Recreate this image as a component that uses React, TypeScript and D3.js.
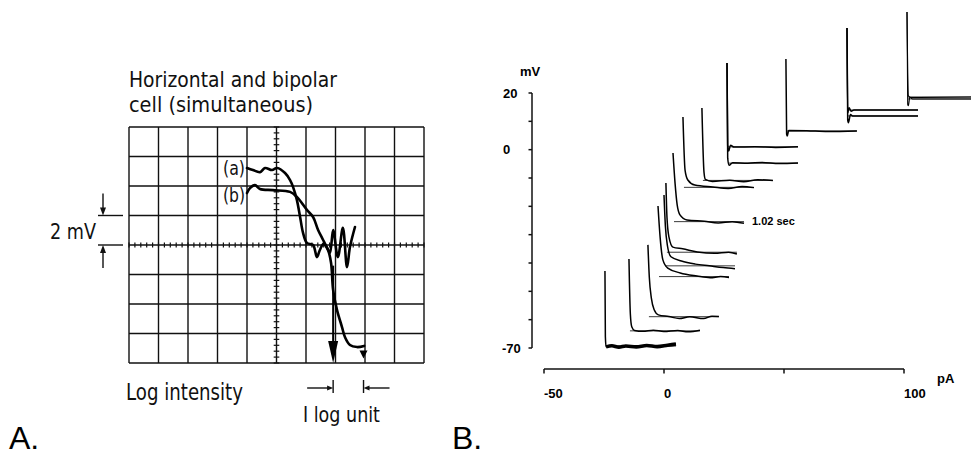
import React from "react";
import * as d3 from "d3";

// ---------- Panel A : oscilloscope graticule (units = divisions) ----------
const gridCols = d3.range(-5, 6);
const gridRows = d3.range(-4, 5);
const minorCols = d3.range(-25, 26).map((i) => i / 5);
const minorRows = d3.range(-20, 21).map((i) => i / 5);

// curve (a): horizontal cell response vs log intensity [div x, div y]
const curveA: [number, number][] = [
  [-1.0, 2.61], [-0.8, 2.54], [-0.56, 2.47], [-0.39, 2.61], [-0.15, 2.54],
  [0.02, 2.61], [0.29, 2.44], [0.46, 2.2], [0.56, 1.97], [0.69, 1.53],
  [0.8, 0.95], [0.9, 0.41], [1.03, 0.07], [1.24, 0.0], [1.37, -0.41],
  [1.47, -0.17], [1.6, 0.05], [1.71, -0.1], [1.81, -0.27], [1.92, 0.51],
  [2.08, -0.41], [2.25, 0.58], [2.39, -0.75], [2.49, -0.07], [2.66, 0.61],
];
// curve (b): bipolar cell response
const curveB: [number, number][] = [
  [-1.0, 1.76], [-0.9, 1.93], [-0.73, 2.03], [-0.56, 1.9], [-0.12, 1.86],
  [0.46, 1.8], [0.69, 1.63], [1.03, 1.19], [1.24, 0.95], [1.41, 0.51],
  [1.58, 0.17], [1.75, -0.17], [1.85, -0.61], [1.92, -1.53], [2.05, -2.2],
  [2.22, -2.78], [2.32, -3.12], [2.49, -3.39], [2.73, -3.46], [2.97, -3.42],
];
const titleLines = ["Horizontal and bipolar", "cell (simultaneous)"];
const curveLabels = ["(a)", "(b)"];

// ---------- Panel B : voltage traces vs injected current ----------
const yTicksMV = d3.range(20, -71, -10);
const yTickLabels = [20, 0, -70];
const xTicksPA = [-50, 0, 50, 100];
const xTickLabels = [-50, 0, 100];
const sweepSec = 1.02;

const traceCurrentsPA = [
  -24.6, -14.6, -6.7, -2.5, 0, 0.8, 3.75, 7.9, 15.8, 26.25, 26.25, 50.8, 76.25, 76.25, 101.25, 101.25,
];
// each trace: [time (s), membrane potential (mV)]
const traceSamples: [number, number][][] = [
  [[0, -42.8], [0.006, -66], [0.016, -69.6], [0.1, -69.2], [0.2, -69.7], [0.3, -69.3], [0.45, -69.6], [0.6, -69.1], [0.75, -69.5], [0.9, -69.0], [1.02, -68.6]],
  [[0, -38.6], [0.02, -58], [0.04, -62.5], [0.08, -63.8], [0.2, -64.1], [0.35, -63.7], [0.5, -64.2], [0.7, -63.8], [0.85, -64.3], [1.02, -63.7]],
  [[0, -33.6], [0.02, -45], [0.05, -52.5], [0.09, -56.5], [0.15, -58.3], [0.3, -58.9], [0.45, -59.6], [0.6, -59.0], [0.8, -59.6], [0.92, -58.8], [1.02, -58.9]],
  [[0, -19.9], [0.03, -30.8], [0.07, -38.9], [0.14, -41.8], [0.32, -43.5], [0.56, -44.6], [0.75, -45.2], [0.9, -44.8], [1.02, -45.1]],
  [[0, -16], [0.02, -27], [0.05, -34], [0.1, -37.8], [0.25, -39.3], [0.45, -40.4], [0.65, -41], [0.85, -41.6], [1.02, -42]],
  [[0, -11.8], [0.015, -23.8], [0.043, -30.8], [0.1, -34.4], [0.24, -35], [0.45, -36.1], [0.7, -36.6], [0.9, -36.2], [1.02, -36.8]],
  [[0, -1.2], [0.03, -12], [0.06, -19.5], [0.1, -23], [0.2, -24.8], [0.45, -25.3], [0.65, -25.9], [0.85, -25.4], [1.02, -26]],
  [[0, 11.5], [0.03, -7.2], [0.07, -10.7], [0.17, -12.5], [0.43, -13.2], [0.65, -13.7], [0.85, -13.0], [1.02, -13.4]],
  [[0, 14.7], [0.03, -8], [0.05, -10.5], [0.15, -11.2], [0.4, -10.8], [0.6, -11.3], [0.8, -10.6], [1.02, -10.9]],
  [[0, 30.6], [0.01, -3], [0.03, -5.5], [0.08, -4.6], [0.3, -4.8], [0.5, -4.5], [0.75, -4.9], [1.02, -4.7]],
  [[0, 30.6], [0.01, 1.5], [0.025, -0.5], [0.05, 1.6], [0.1, 0.9], [0.4, 1.0], [0.7, 0.8], [1.02, 1.0]],
  [[0, 32], [0.01, 5.5], [0.02, 4.8], [0.04, 6.8], [0.3, 6.7], [0.6, 6.4], [1.02, 6.6]],
  [[0, 42.9], [0.01, 10.5], [0.02, 9.5], [0.05, 12.4], [0.08, 11.9], [1.02, 11.9]],
  [[0, 42.9], [0.01, 13], [0.03, 14.8], [0.06, 13.6], [0.1, 14], [1.02, 14]],
  [[0, 48.6], [0.01, 16], [0.02, 15.5], [0.04, 18.5], [0.08, 17.9], [1.02, 17.9]],
  [[0, 48.6], [0.02, 19], [0.05, 18.4], [1.02, 18.6]],
];
const sweepLabel = "1.02 sec";
const sweepLabelTrace = 6;

const fontA = "'DejaVu Sans', 'Liberation Sans', sans-serif";
const fontB = "'Liberation Sans', Arial, sans-serif";

function tri(x: number, y: number, w: number, h: number, dir: "up" | "down" | "left" | "right") {
  if (dir === "down") return `M${x - w / 2},${y - h}L${x + w / 2},${y - h}L${x},${y}Z`;
  if (dir === "up") return `M${x - w / 2},${y + h}L${x + w / 2},${y + h}L${x},${y}Z`;
  if (dir === "right") return `M${x - h},${y - w / 2}L${x - h},${y + w / 2}L${x},${y}Z`;
  return `M${x + h},${y - w / 2}L${x + h},${y + w / 2}L${x},${y}Z`;
}

export default function App() {
  // Panel A scales
  const xA = d3.scaleLinear().domain([-5, 5]).range([129, 424]);
  const yA = d3.scaleLinear().domain([-4, 4]).range([363, 127]);
  const lineA = d3
    .line<[number, number]>()
    .x((d) => xA(d[0]))
    .y((d) => yA(d[1]))
    .curve(d3.curveCatmullRom.alpha(0.5));

  // Panel B scales
  const xB = d3.scaleLinear().domain([-50, 100]).range([544, 904]);
  const yB = d3.scaleLinear().domain([-70, 20]).range([348, 93]);
  const tB = d3.scaleLinear().domain([0, sweepSec]).range([0, 71]);

  const traceLine = (pA: number) =>
    d3
      .line<[number, number]>()
      .x((d) => xB(pA) + tB(d[0]))
      .y((d) => yB(d[1]))
      .curve(d3.curveMonotoneX);

  const arrowX = xA(1.92);
  const endX = xA(2.95);

  return (
    <svg width={971} height={456} style={{ position: "absolute", left: 0, top: 0, background: "#fff" }}>
      <rect width={971} height={456} fill="#fff" />
      {/* ---------------- Panel A ---------------- */}
      <g fill="#111" fontFamily={fontA}>
        <text x={129} y={87} fontSize={22} textLength={208} lengthAdjust="spacingAndGlyphs">
          {titleLines[0]}
        </text>
        <text x={129} y={112} fontSize={22} textLength={184} lengthAdjust="spacingAndGlyphs">
          {titleLines[1]}
        </text>
      </g>
      <g stroke="#111" strokeWidth={1.4} fill="none">
        {gridCols.map((c) => (
          <line key={"c" + c} x1={xA(c)} x2={xA(c)} y1={yA(-4)} y2={yA(4)} />
        ))}
        {gridRows.map((r) => (
          <line key={"r" + r} x1={xA(-5)} x2={xA(5)} y1={yA(r)} y2={yA(r)} />
        ))}
        {minorCols.map((c) => (
          <line key={"mc" + c} x1={xA(c)} x2={xA(c)} y1={yA(0) - 2.5} y2={yA(0) + 2.5} strokeWidth={1.2} />
        ))}
        {minorRows.map((r) => (
          <line key={"mr" + r} x1={xA(0) - 2.8} x2={xA(0) + 2.8} y1={yA(r)} y2={yA(r)} strokeWidth={1.2} />
        ))}
      </g>
      <g fill="none" stroke="#000" strokeWidth={2.6} strokeLinejoin="round" strokeLinecap="round">
        <path d={lineA(curveA) || ""} />
        <path d={lineA(curveB) || ""} />
      </g>
      {/* big arrow and end arrow */}
      <g stroke="#000" fill="#000">
        <line x1={arrowX} x2={arrowX} y1={yA(-0.7)} y2={yA(-3.3)} strokeWidth={2} />
        <path d={tri(arrowX, yA(-4), 10, 22, "down")} stroke="none" />
        <path d={tri(endX, yA(-3.85), 8, 8, "down")} stroke="none" />
      </g>
      <g fill="#111" fontFamily={fontA} fontSize={20}>
        <text x={223} y={yA(2.61) + 7} textLength={22} lengthAdjust="spacingAndGlyphs">
          {curveLabels[0]}
        </text>
        <text x={223} y={yA(1.68) + 7} textLength={22} lengthAdjust="spacingAndGlyphs">
          {curveLabels[1]}
        </text>
      </g>
      {/* 2 mV scale marker */}
      <g stroke="#111" strokeWidth={1.4} fill="#111">
        <line x1={98} x2={123} y1={yA(1)} y2={yA(1)} />
        <line x1={98} x2={123} y1={yA(0)} y2={yA(0)} />
        <line x1={103} x2={103} y1={yA(1) - 22} y2={yA(1) - 6} />
        <path d={tri(103, yA(1), 6, 8, "down")} stroke="none" />
        <line x1={103} x2={103} y1={yA(0) + 23} y2={yA(0) + 6} />
        <path d={tri(103, yA(0), 6, 8, "up")} stroke="none" />
      </g>
      <text x={50} y={239} fontSize={22} fontFamily={fontA} fill="#111" textLength={46} lengthAdjust="spacingAndGlyphs">
        2 mV
      </text>
      <text x={126} y={400} fontSize={23} fontFamily={fontA} fill="#111" textLength={117} lengthAdjust="spacingAndGlyphs">
        Log intensity
      </text>
      {/* 1 log unit marker */}
      <g stroke="#111" strokeWidth={1.4} fill="#111">
        <line x1={arrowX} x2={arrowX} y1={380} y2={393} />
        <line x1={endX} x2={endX} y1={380} y2={393} />
        <line x1={arrowX - 26} x2={arrowX - 4} y1={388} y2={388} />
        <path d={tri(arrowX, 388, 5, 6, "right")} stroke="none" />
        <line x1={endX + 4} x2={endX + 26} y1={388} y2={388} />
        <path d={tri(endX, 388, 5, 6, "left")} stroke="none" />
      </g>
      <text x={303} y={422} fontSize={22} fontFamily={fontA} fill="#111" textLength={77} lengthAdjust="spacingAndGlyphs">
        I log unit
      </text>
      <text x={9} y={449} fontSize={32} fontFamily={fontB} fill="#000">
        A.
      </text>

      {/* ---------------- Panel B ---------------- */}
      <g stroke="#111" strokeWidth={1.5} fill="none">
        <line x1={532} x2={532} y1={yB(20)} y2={yB(-70)} />
        {yTicksMV.map((v) => (
          <line key={"yt" + v} x1={528.5} x2={532} y1={yB(v)} y2={yB(v)} />
        ))}
        <line x1={xB(-50)} x2={xB(100)} y1={369} y2={369} />
        {xTicksPA.map((v) => (
          <line key={"xt" + v} x1={xB(v)} x2={xB(v)} y1={369} y2={373.5} />
        ))}
      </g>
      <g fontFamily={fontB} fontWeight="bold" fill="#000" fontSize={13}>
        {yTickLabels.map((v) => (
          <text key={"yl" + v} x={v < 0 ? 502 : 503} y={yB(v) + 4.5}>
            {v < 0 ? "-" + Math.abs(v) : v}
          </text>
        ))}
        <text x={520} y={76}>mV</text>
        {xTickLabels.map((v) => (
          <text key={"xl" + v} x={xB(v)} y={398}>
            {v < 0 ? "-" + Math.abs(v) : v}
          </text>
        ))}
        <text x={937} y={383}>pA</text>
      </g>
      {/* fitted steady-state lines */}
      <g stroke="#222" strokeWidth={0.9}>
        {traceSamples.map((s, i) => {
          const ss = d3.median(s.filter((d) => d[0] >= 0.2), (d) => d[1]) ?? s[s.length - 1][1];
          return (
            <line
              key={"f" + i}
              x1={xB(traceCurrentsPA[i]) + 1}
              x2={xB(traceCurrentsPA[i]) + tB(sweepSec)}
              y1={yB(ss)}
              y2={yB(ss)}
            />
          );
        })}
      </g>
      <g fill="none" stroke="#000" strokeLinejoin="round">
        {traceSamples.map((s, i) => (
          <path key={"t" + i} d={traceLine(traceCurrentsPA[i])(s) || ""} strokeWidth={i >= 14 ? 1.1 : 1.5} />
        ))}
        {/* noisy, thick steady-state portion of the most hyperpolarised trace */}
        <path
          d={traceLine(traceCurrentsPA[0])(traceSamples[0].filter((d) => d[0] >= 0.016)) || ""}
          strokeWidth={3.6}
        />
      </g>
      <text
        x={xB(traceCurrentsPA[sweepLabelTrace]) + tB(sweepSec) + 8}
        y={yB(traceSamples[sweepLabelTrace][traceSamples[sweepLabelTrace].length - 1][1]) + 2}
        fontFamily={fontB}
        fontWeight="bold"
        fontSize={11}
        fill="#000"
      >
        {sweepLabel}
      </text>
      <text x={452} y={449} fontSize={32} fontFamily={fontB} fill="#000">
        B.
      </text>
    </svg>
  );
}
